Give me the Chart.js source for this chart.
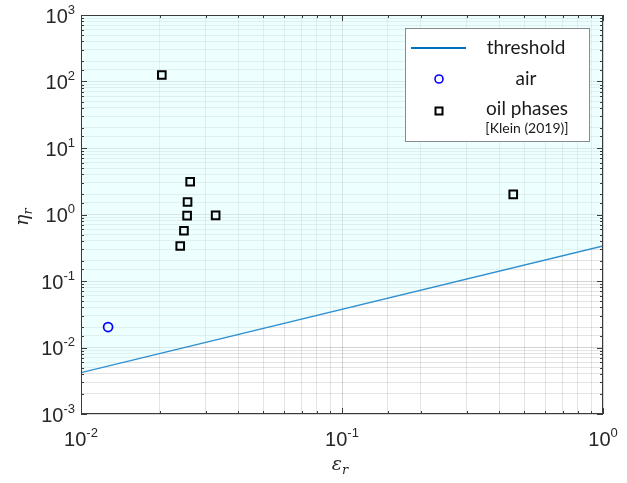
<!DOCTYPE html>
<html>
<head>
<meta charset="utf-8">
<script src="https://cdn.jsdelivr.net/npm/chart.js@4.4.0/dist/chart.umd.min.js"></script>
<style>
    html, body { margin: 0; padding: 0; background: #fff; }
    #wrap { width: 627px; height: 483px; position: relative; }
</style>
</head>
<body>
<div id="wrap"><canvas id="grafico"></canvas></div>
<script>
// datos
const epsThreshold = [0.01, 1];
const etaThreshold = [0.0042, 0.336];

const epsAir = [0.0127];
const etaAir = [0.0203];

const epsOil = [0.0204, 0.0262, 0.0256, 0.0255, 0.0328, 0.0248, 0.0240, 0.453];
const etaOil = [125, 3.11, 1.54, 0.96, 0.97, 0.57, 0.336, 2.01];

const xTickExp = [-2, -1, 0];
const yTickExp = [-3, -2, -1, 0, 1, 2, 3];

const legendLabels = ['threshold', 'air', 'oil phases', '[Klein (2019)]'];

const toPoints = (xs, ys) => xs.map((x, i) => ({ x: x, y: ys[i] }));

const axisColor = '#3a3a3a';
const labelFont = '"Liberation Sans", Arial, sans-serif';

function esMayor(v) {
    const l = Math.log10(v);
    return Math.abs(l - Math.round(l)) < 1e-6;
}

function gridColor(ctx) {
    if (!ctx.tick) return 'rgba(0,0,0,0.12)';
    return esMayor(ctx.tick.value) ? 'rgba(0,0,0,0.17)' : 'rgba(0,0,0,0.11)';
}

function potencia(ctx, exp, x, y, align) {
    ctx.font = '20px ' + labelFont;
    const base = '10';
    const wb = ctx.measureText(base).width;
    ctx.font = '13px ' + labelFont;
    const sup = String(exp);
    const ws = ctx.measureText(sup).width;
    const total = wb + ws;
    let x0 = x;
    if (align === 'center') x0 = x - total / 2;
    if (align === 'right') x0 = x - total;
    ctx.textAlign = 'left';
    ctx.textBaseline = 'middle';
    ctx.fillStyle = '#262626';
    ctx.font = '20px ' + labelFont;
    ctx.fillText(base, x0, y);
    ctx.font = '13px ' + labelFont;
    ctx.fillText(sup, x0 + wb, y - 7);
}

const marcoPlugin = {
    id: 'marco',
    afterDraw(chart) {
        const ctx = chart.ctx;
        const a = chart.chartArea;
        const xs = chart.scales.x;
        const ys = chart.scales.y;
        ctx.save();

        // marco
        ctx.strokeStyle = axisColor;
        ctx.lineWidth = 1;
        ctx.strokeRect(a.left + 0.5, a.top + 0.5, a.right - a.left - 1, a.bottom - a.top - 1);

        // marcas interiores en los cuatro lados
        ctx.beginPath();
        xs.ticks.forEach(t => {
            const px = Math.round(xs.getPixelForValue(t.value)) + 0.5;
            const len = esMayor(t.value) ? 6 : 3;
            ctx.moveTo(px, a.bottom); ctx.lineTo(px, a.bottom - len);
            ctx.moveTo(px, a.top); ctx.lineTo(px, a.top + len);
        });
        ys.ticks.forEach(t => {
            const py = Math.round(ys.getPixelForValue(t.value)) + 0.5;
            const len = esMayor(t.value) ? 6 : 3;
            ctx.moveTo(a.left, py); ctx.lineTo(a.left + len, py);
            ctx.moveTo(a.right, py); ctx.lineTo(a.right - len, py);
        });
        ctx.stroke();

        // etiquetas de los ejes
        xTickExp.forEach(e => {
            potencia(ctx, e, xs.getPixelForValue(Math.pow(10, e)), a.bottom + 26, 'center');
        });
        yTickExp.forEach(e => {
            potencia(ctx, e, a.left - 6, ys.getPixelForValue(Math.pow(10, e)) + 2, 'right');
        });

        // titulos
        ctx.fillStyle = '#262626';
        ctx.textBaseline = 'alphabetic';
        ctx.textAlign = 'left';
        ctx.font = 'italic 19px "DejaVu Serif", "Liberation Serif", serif';
        const we = ctx.measureText('\u03b5').width;
        const cx = (a.left + a.right) / 2;
        ctx.fillText('\u03b5', cx - we, 470);
        ctx.font = 'italic 13px "DejaVu Serif", "Liberation Serif", serif';
        ctx.fillText('r', cx, 474);

        ctx.save();
        ctx.translate(28, (a.top + a.bottom) / 2);
        ctx.rotate(-Math.PI / 2);
        ctx.font = 'italic 19px "DejaVu Serif", "Liberation Serif", serif';
        const wn = ctx.measureText('\u03b7').width;
        ctx.fillText('\u03b7', -wn, 0);
        ctx.font = 'italic 13px "DejaVu Serif", "Liberation Serif", serif';
        ctx.fillText('r', 0, 4);
        ctx.restore();

        // leyenda
        const lx = 405, ly = 28, lw = 184, lh = 113;
        ctx.fillStyle = '#ffffff';
        ctx.fillRect(lx, ly, lw, lh);
        ctx.strokeStyle = '#8a8a8a';
        ctx.lineWidth = 1;
        ctx.strokeRect(lx + 0.5, ly + 0.5, lw, lh);

        ctx.strokeStyle = '#0072BD';
        ctx.lineWidth = 2;
        ctx.beginPath();
        ctx.moveTo(411, 48); ctx.lineTo(466, 48);
        ctx.stroke();

        ctx.strokeStyle = '#0000ff';
        ctx.lineWidth = 1.6;
        ctx.beginPath();
        ctx.arc(439, 79, 4, 0, Math.PI * 2);
        ctx.stroke();

        ctx.strokeStyle = '#000000';
        ctx.lineWidth = 2;
        ctx.strokeRect(435.5, 107.5, 7, 7);

        ctx.fillStyle = '#1a1a1a';
        ctx.textAlign = 'center';
        ctx.textBaseline = 'middle';
        ctx.font = '19px Lato, "Open Sans", sans-serif';
        ctx.fillText(legendLabels[0], 526, 48);
        ctx.fillText(legendLabels[1], 526, 79);
        ctx.fillText(legendLabels[2], 527, 109);
        ctx.font = '14px Lato, "Open Sans", sans-serif';
        ctx.fillText(legendLabels[3], 527, 128);

        ctx.restore();
    }
};

const ctx = document.getElementById('grafico');

const config = {
    type: 'scatter',
    data: {
        datasets: [{
            label: 'threshold',
            type: 'line',
            data: toPoints(epsThreshold, etaThreshold),
            borderColor: '#2f8fd0',
            borderWidth: 1.3,
            pointRadius: 0,
            fill: 'end',
            backgroundColor: 'rgba(215,255,255,0.45)',
            order: 3
        }, {
            label: 'air',
            data: toPoints(epsAir, etaAir),
            pointStyle: 'circle',
            pointRadius: 4.5,
            borderColor: '#0000ff',
            backgroundColor: 'rgba(0,0,0,0)',
            borderWidth: 1.7,
            order: 2
        }, {
            label: 'oil phases',
            data: toPoints(epsOil, etaOil),
            pointStyle: 'rect',
            pointRadius: 5.4,
            borderColor: '#000000',
            backgroundColor: 'rgba(0,0,0,0)',
            borderWidth: 2,
            order: 1
        }]
    },
    options: {
        responsive: true,
        maintainAspectRatio: false,
        animation: false,
        layout: {
            padding: { left: 81, top: 15, right: 24, bottom: 69 }
        },
        scales: {
            x: {
                type: 'logarithmic',
                min: 0.01,
                max: 1,
                z: 1,
                border: { display: false },
                grid: { color: gridColor, drawTicks: false, lineWidth: 1 },
                ticks: { display: false, autoSkip: false }
            },
            y: {
                type: 'logarithmic',
                min: 0.001,
                max: 1000,
                z: 1,
                border: { display: false },
                grid: { color: gridColor, drawTicks: false, lineWidth: 1 },
                ticks: { display: false, autoSkip: false }
            }
        },
        plugins: {
            legend: { display: false },
            tooltip: { enabled: false }
        }
    },
    plugins: [marcoPlugin]
};

new Chart(ctx, config);
</script>
</body>
</html>
